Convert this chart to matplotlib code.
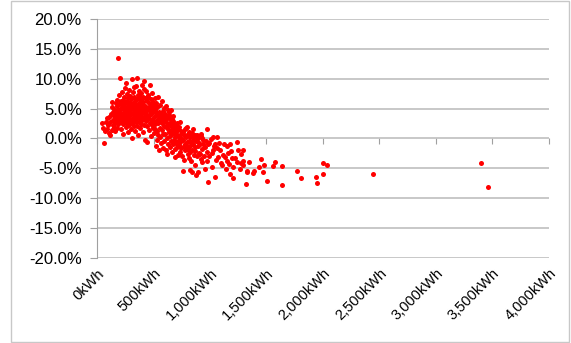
import matplotlib.pyplot as plt
from matplotlib.ticker import FuncFormatter
from matplotlib.patches import Rectangle

plt.rcParams['font.family'] = ['Liberation Sans', 'DejaVu Sans']

# monthly consumption (kWh) and deviation (%) per customer
energy_kwh = [
    40, 55, 62, 70, 80, 85, 91, 95,
    105, 110, 115, 118, 122, 128, 132, 135, 138, 142, 144, 146, 148,
    152, 155, 158, 160, 163, 165, 168, 170, 173, 175, 178, 180, 183, 185, 188, 190, 193, 196, 198,
    201, 204, 206, 208, 210, 213, 215, 217, 220, 222, 225, 227, 229, 231, 233, 235, 238, 240, 242, 244, 246, 248,
    251, 253, 255, 257, 259, 261, 263, 265, 267, 269, 271, 273, 275, 277, 279, 281, 283, 285, 286, 288, 290, 292, 294, 296, 298,
    300, 302, 304, 306, 307, 309, 311, 313, 315, 317, 319, 321, 323, 325, 327, 329, 331, 333, 335, 337, 339, 341, 343, 345, 347, 349,
    351, 353, 355, 357, 359, 361, 363, 365, 367, 369, 371, 373, 375, 377, 379, 381, 383, 385, 387, 389, 391, 393, 395, 397, 399,
    401, 403, 405, 407, 409, 411, 413, 415, 417, 419, 421, 423, 425, 427, 429, 431, 433, 435, 437, 440, 442, 444, 446, 448,
    451, 454, 456, 458, 460, 462, 465, 467, 470, 472, 474, 477, 479, 481, 483, 486, 488, 490, 493, 495, 497, 499,
    502, 504, 507, 509, 511, 514, 516, 518, 521, 523, 525, 528, 530, 532, 534, 537, 539, 542, 544, 546, 549,
    552, 554, 557, 559, 562, 564, 567, 569, 571, 573, 576, 578, 581, 583, 586, 588, 591, 593, 596, 598,
    602, 604, 607, 609, 612, 614, 617, 619, 622, 624, 627, 629, 632, 634, 637, 640, 642, 645, 647, 649,
    652, 654, 657, 659, 661, 664, 666, 669, 671, 674, 676, 679, 681, 684, 686, 689, 691, 694, 696, 699,
    701, 705, 708, 711, 714, 717, 720, 723, 726, 729, 732, 735, 738, 741, 744, 747,
    752, 755, 758, 761, 764, 767, 770, 773, 776, 779, 782, 785, 788, 791, 794, 797, 799,
    803, 806, 808, 811, 814, 817, 820, 823, 823, 826, 829, 832, 835, 838, 841, 844, 847,
    852, 852, 856, 860, 864, 867, 867, 871, 876, 879, 882, 886, 890, 894, 897, 897,
    903, 908, 912, 916, 920, 924, 927, 927, 932, 937, 941, 946,
    956, 960, 965, 971, 971, 976, 980, 985, 990, 995,
    1009, 1015, 1020, 1029, 1029, 1035, 1044, 1044, 1050, 1059, 1066, 1074, 1080, 1089, 1095,
    1109, 1115, 1125, 1133, 1140, 1148, 1155, 1162, 1170, 1177, 1177, 1185, 1195, 1206, 1206,
    1221, 1236, 1236, 1251, 1266, 1272, 1272, 1289, 1289, 1295, 1319, 1325,
    1330, 1348, 1378, 1389, 1434, 1449, 1472, 1478, 1507, 1560, 1575, 1635, 1635,
    1773, 1803, 1938, 1950, 2003, 2033, 2003, 2445, 3398, 3463,
]

deviation_pct = [
    2.5, 1.8, -0.7, 1.2, 2.7, 3.4, 1.6, 2.2,
    0.9, 3.6, 0.5, 2.8, 4.1, 1.4, 5.2, 6.1, 3.1, 2.2, 4.4, 1.9, 3.8,
    5.0, 2.6, 4.6, 3.4, 1.2, 6.0, 2.9, 4.2, 5.5, 3.6, 1.8, 6.5, 13.4, 4.8, 2.4, 3.9, 5.8, 3.2, 7.3,
    4.5, 10.1, 2.8, 5.1, 3.7, 6.2, 1.5, 4.1, 7.8, 3.3, 5.6, 6.5, 2.4, 4.9, 0.8, 3.8, 6.9, 5.3, 2.9, 4.4, 8.4, 3.5,
    5.9, 1.9, 4.7, 9.3, 3.1, 6.3, 2.6, 5.2, 7.4, 4.0, 3.4, 5.8, 1.1, 6.8, 4.5, 2.2, 5.5, 3.7, 8.1, 4.9, 6.0, 2.9, 7.1, 3.9, 5.0,
    1.6, 4.3, 6.6, 3.2, 9.9, 0.0, 5.4, 2.5, 7.7, 4.1, 3.0, 5.9, 6.9, 2.0, 4.7, 3.6, 8.6, 5.2, 1.3, 6.2, 3.9, 4.8, 2.7, 8.8, 5.6, 3.3,
    10.1, 6.6, 4.4, 2.1, 7.3, 3.5, 5.1, 0.6, 6.0, 4.0, 8.0, 2.8, 5.5, 3.2, 6.9, 4.6, 1.7, 7.6, 3.8, 5.3, 2.4, 6.4, 4.2, 9.0, 3.0,
    5.7, 1.0, 4.9, 7.0, 3.4, 6.1, 2.3, 8.3, 4.5, 9.6, 3.7, 5.4, -0.2, 6.7, 2.9, 4.1, 7.9, 3.1, 5.0, -0.6, 6.3, 2.0, 4.7, 3.5,
    7.2, 7.0, 5.2, 1.4, 3.9, 6.0, 2.6, 4.6, 8.9, 3.3, 5.7, 0.4, 4.0, 6.6, 2.2, 5.0, 3.0, 7.6, 6.1, 1.8, 4.4, 2.7,
    5.4, 3.6, 0.9, 6.7, 2.4, 4.8, 1.6, 3.9, 5.9, -1.2, 2.9, -0.3, 4.3, 1.2, 5.3, 3.2, 7.0, 0.5, 2.6, 4.5, -2.0,
    3.7, 1.8, 5.6, 0.2, 2.9, 4.1, -0.8, 3.3, 6.3, 3.9, 1.4, 2.5, -1.6, 4.6, 0.8, 3.0, 5.1, -0.4, 2.1, 3.6,
    0.8, 4.0, 1.9, -1.9, 2.7, 5.4, 0.0, 3.4, -2.6, 1.5, 4.8, 2.3, -0.9, 3.9, 1.1, 4.4, -1.5, 2.6, 0.4, 3.2,
    -0.5, 2.0, 4.7, 1.3, 3.3, -2.3, 0.7, 2.9, -1.0, 1.8, 3.8, -0.2, 0.9, 2.4, -1.8, 1.5, -3.1, 0.3, 2.2, -0.8,
    1.0, 0.5, -1.4, 2.6, -0.4, 1.6, -2.8, 0.2, -1.1, 1.9, -0.6, 2.7, -2.2, 0.7, -1.6, 1.2,
    -0.1, -2.9, -5.4, 1.0, -0.3, -1.3, 0.6, -3.6, -0.9, 1.5, -2.0, 0.3, -1.1, 1.8, 1.9, -0.6, -1.7,
    -1.7, 0.8, -2.6, -0.4, -3.3, 1.1, -1.2, 0.2, -5.3, -2.3, 0.5, -0.8, -3.8, -5.6, 0.9, -1.9, -0.2,
    1.6, -0.9, -2.8, 0.3, -1.5, -4.5, 0.5, -2.1, -6.2, -0.5, 0.5, -3.0, -1.2, 0.1, -0.6, -5.7,
    -2.4, -1.0, -2.6, 0.4, 0.8, -3.5, 0.0, -4.0, -1.7, -0.3, -0.9, -2.9,
    -5.1, -1.4, -0.4, 1.5, -3.7, -2.2, -1.0, -7.3, -3.0, -0.7,
    -0.1, -4.8, -2.4, 0.2, -2.0, -1.3, -0.9, -6.4, -3.6, 0.2, -1.6, -3.1, -0.8, -1.9, -4.1,
    -4.5, -2.7, -1.0, -3.1, -5.2, -1.2, -3.8, -2.5, -4.3, -1.0, -5.9, -2.1, -3.3, -4.8, -6.6,
    -3.3, -4.0, -0.6, -1.9, -5.1, -2.6, -4.1, -1.9, -4.5, -3.7, -7.6, -5.6,
    -5.4, -3.9, -5.8, -5.5, -4.8, -3.5, -5.6, -4.4, -7.2, -4.7, -3.9, -4.6, -7.8,
    -5.5, -6.7, -6.5, -7.5, -4.1, -4.4, -5.9, -5.9, -4.1, -8.2,
]

x_ticks = [0, 500, 1000, 1500, 2000, 2500, 3000, 3500, 4000]
y_ticks = [-20, -15, -10, -5, 0, 5, 10, 15, 20]

fig = plt.figure(figsize=(5.71, 3.43), dpi=100)
ax = fig.add_axes([0.170, 0.248, 0.791, 0.697])

ax.scatter(energy_kwh, deviation_pct, s=13, color='#ff0000', linewidths=0, zorder=3)

ax.set_xlim(0, 4000)
ax.set_ylim(-20, 20)
ax.set_yticks(y_ticks)
ax.set_xticks(x_ticks)
ax.yaxis.set_major_formatter(FuncFormatter(lambda v, p: f'{v:.1f}%'))
ax.xaxis.set_major_formatter(FuncFormatter(lambda v, p: f'{v:,.0f}kWh'))

ax.grid(axis='y', color='#bfbfbf', linewidth=1.2)
ax.set_axisbelow(True)
for side in ['top', 'right', 'bottom']:
    ax.spines[side].set_visible(False)
ax.spines['left'].set_color('#a0a0a0')
ax.tick_params(axis='y', length=5, color='#a0a0a0', labelsize=12, pad=6)
ax.tick_params(axis='x', length=0, labelsize=10.5, pad=6)
for lbl in ax.get_xticklabels():
    lbl.set_rotation(45)
    lbl.set_ha('right')
    lbl.set_rotation_mode('anchor')

# horizontal axis line crossing at 0%
zero_axis = ax.secondary_xaxis(0.5)
zero_axis.set_xticks(x_ticks, labels=[''] * len(x_ticks))
zero_axis.xaxis.set_ticks_position('bottom')
zero_axis.tick_params(axis='x', direction='out', length=4, color='#a0a0a0',
                      labelbottom=False, labeltop=False)
zero_axis.spines['bottom'].set_color('#a0a0a0')
zero_axis.spines['top'].set_visible(False)

fig.patches.append(Rectangle((0.019, 0.004), 0.977, 0.992, transform=fig.transFigure,
                             fill=False, edgecolor='#c8c8c8', linewidth=1))

fig.savefig('out.png', dpi=100)
